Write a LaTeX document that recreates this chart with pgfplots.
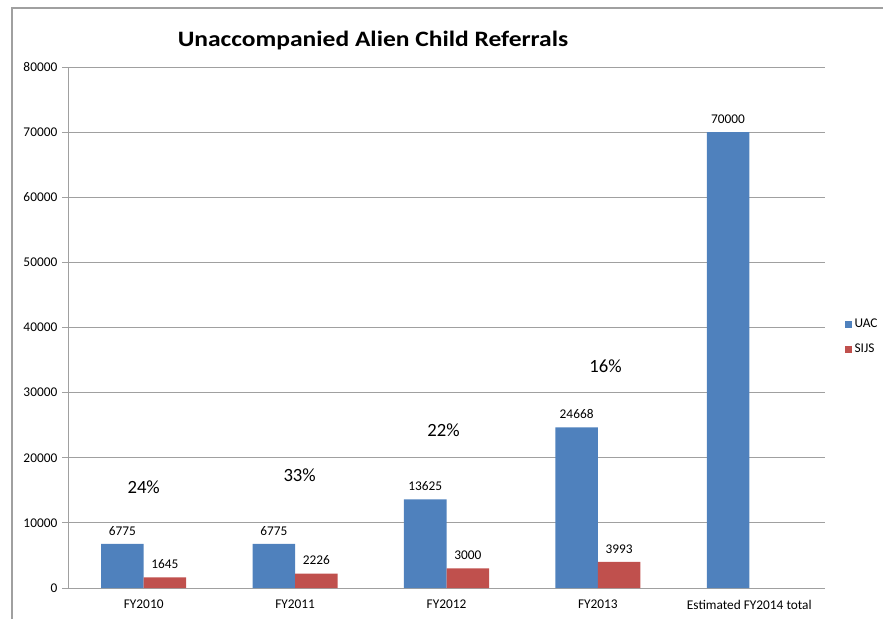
\documentclass[border=0pt]{standalone}
\usepackage{pgfplots}
\pgfplotsset{compat=1.18}
\usepackage{fontspec}
\setmainfont{Carlito}
\newfontfamily\titlefont[FakeStretch=1.16]{Carlito}
\definecolor{uac}{HTML}{4F81BD}
\definecolor{sijs}{HTML}{C0504D}
\definecolor{gridc}{HTML}{A0A0A0}
\begin{document}
\begin{tikzpicture}
\useasboundingbox (0,0) rectangle (662.25pt,464.25pt);
% frame of the screenshot
\draw[gridc, line width=0.8pt] (9pt,0pt) -- (9pt,458.25pt) -- (662.25pt,458.25pt);
\node[font=\titlefont\fontsize{16.5}{18}\selectfont\bfseries] at (279.75pt,433.5pt) {Unaccompanied Alien Child Referrals};
\begin{axis}[
  at={(51pt,23.25pt)}, anchor=south west,
  scale only axis, width=567.75pt, height=390.75pt,
  ybar=0pt, bar width=31.9pt,
  xmin=-0.5, xmax=4.5, ymin=0, ymax=80000,
  xtick={0,1,2,3,4},
  xticklabels={FY2010,FY2011,FY2012,FY2013,Estimated FY2014 total},
  ytick={0,10000,...,80000},
  scaled y ticks=false,
  /pgf/number format/assume math mode=true,
  yticklabel={\pgfmathprintnumber[fixed,1000 sep={}]{\tick}},
  ymajorgrids, grid style={gridc, line width=0.6pt},
  axis x line*=bottom, axis y line*=left,
  axis line style={gridc, line width=0.6pt},
  x axis line style={-}, y axis line style={-},
  major x tick style={draw=none},
  major y tick style={gridc, line width=0.6pt},
  tick align=outside, major tick length=4.5pt,
  tick label style={font=\fontsize{10}{12}\selectfont},
  xticklabel style={yshift=-1pt},
  nodes near coords,
  nodes near coords style={font=\fontsize{10}{12}\selectfont, text=black, yshift=3pt,
    /pgf/number format/fixed, /pgf/number format/1000 sep={}},
  legend style={at={(1.026,0.482)}, anchor=west, draw=none, fill=none,
    font=\fontsize{10}{12}\selectfont, row sep=7pt, inner sep=0pt},
  legend cell align=left,
  legend image code/.code={\fill[#1] (0pt,-2.6pt) rectangle (5.2pt,2.6pt);},
  clip=false,
]
\addplot[draw=none, fill=uac] coordinates {(0,6775) (1,6775) (2,13625) (3,24668) (4,70000)};
\addplot[draw=none, fill=sijs] coordinates {(0,1645) (1,2226) (2,3000) (3,3993)};
\legend{UAC,SIJS}
\node[font=\fontsize{14}{16}\selectfont] at (axis cs:0,15500) {24\%};
\node[font=\fontsize{14}{16}\selectfont] at (axis cs:1.03,17350) {33\%};
\node[font=\fontsize{14}{16}\selectfont] at (axis cs:1.98,24260) {22\%};
\node[font=\fontsize{14}{16}\selectfont] at (axis cs:3.05,34090) {16\%};
\end{axis}
\end{tikzpicture}
\end{document}
